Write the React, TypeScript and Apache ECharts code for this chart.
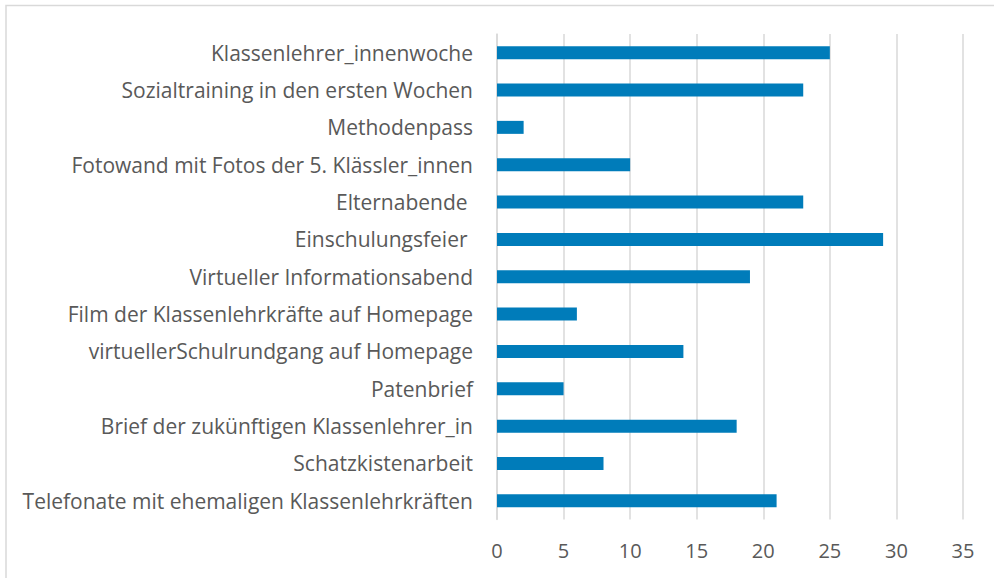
import React, { useEffect, useRef } from "react";
import * as echarts from "echarts";

const categories = [
  "Klassenlehrer_innenwoche",
  "Sozialtraining in den ersten Wochen",
  "Methodenpass",
  "Fotowand mit Fotos der 5. Klässler_innen",
  "Elternabende ",
  "Einschulungsfeier ",
  "Virtueller Informationsabend",
  "Film der Klassenlehrkräfte auf Homepage",
  "virtuellerSchulrundgang auf Homepage",
  "Patenbrief",
  "Brief der zukünftigen Klassenlehrer_in",
  "Schatzkistenarbeit",
  "Telefonate mit ehemaligen Klassenlehrkräften",
];
const values = [25, 23, 2, 10, 23, 29, 19, 6, 14, 5, 18, 8, 21];
const xTicks = { min: 0, max: 35, interval: 5 };

export default function App() {
  const ref = useRef<HTMLDivElement>(null);
  useEffect(() => {
    if (!ref.current) return;
    const chart = echarts.init(ref.current, null, { renderer: "svg" });
    const font = "'Open Sans', 'Noto Sans', sans-serif";
    chart.setOption({
      animation: false,
      backgroundColor: "#ffffff",
      graphic: [
        {
          type: "rect",
          shape: { x: 6, y: 5.5, width: 1000, height: 600 },
          style: { fill: "none", stroke: "#d9d9d9", lineWidth: 1.5 },
          silent: true,
        },
      ],
      grid: { left: 497, right: 31, top: 34, bottom: 58.5, containLabel: false },
      xAxis: {
        type: "value",
        min: xTicks.min,
        max: xTicks.max,
        interval: xTicks.interval,
        axisLine: { show: false },
        axisTick: { show: false },
        splitLine: { show: true, lineStyle: { color: "#d9d9d9", width: 1.5 } },
        axisLabel: { color: "#595959", fontSize: 20, fontFamily: font, margin: 21 },
      },
      yAxis: {
        type: "category",
        inverse: true,
        data: categories,
        axisLine: { show: true, lineStyle: { color: "#d9d9d9", width: 1.5 } },
        axisTick: { show: false },
        axisLabel: { color: "#595959", fontSize: 21, fontFamily: font, margin: 24 },
      },
      series: [
        {
          type: "bar",
          data: values,
          barWidth: 13,
          itemStyle: { color: "#007CBA" },
        },
      ],
    });
    return () => chart.dispose();
  }, []);
  return (
    <div
      ref={ref}
      style={{ position: "fixed", left: 0, top: 0, width: 994, height: 578 }}
    />
  );
}
